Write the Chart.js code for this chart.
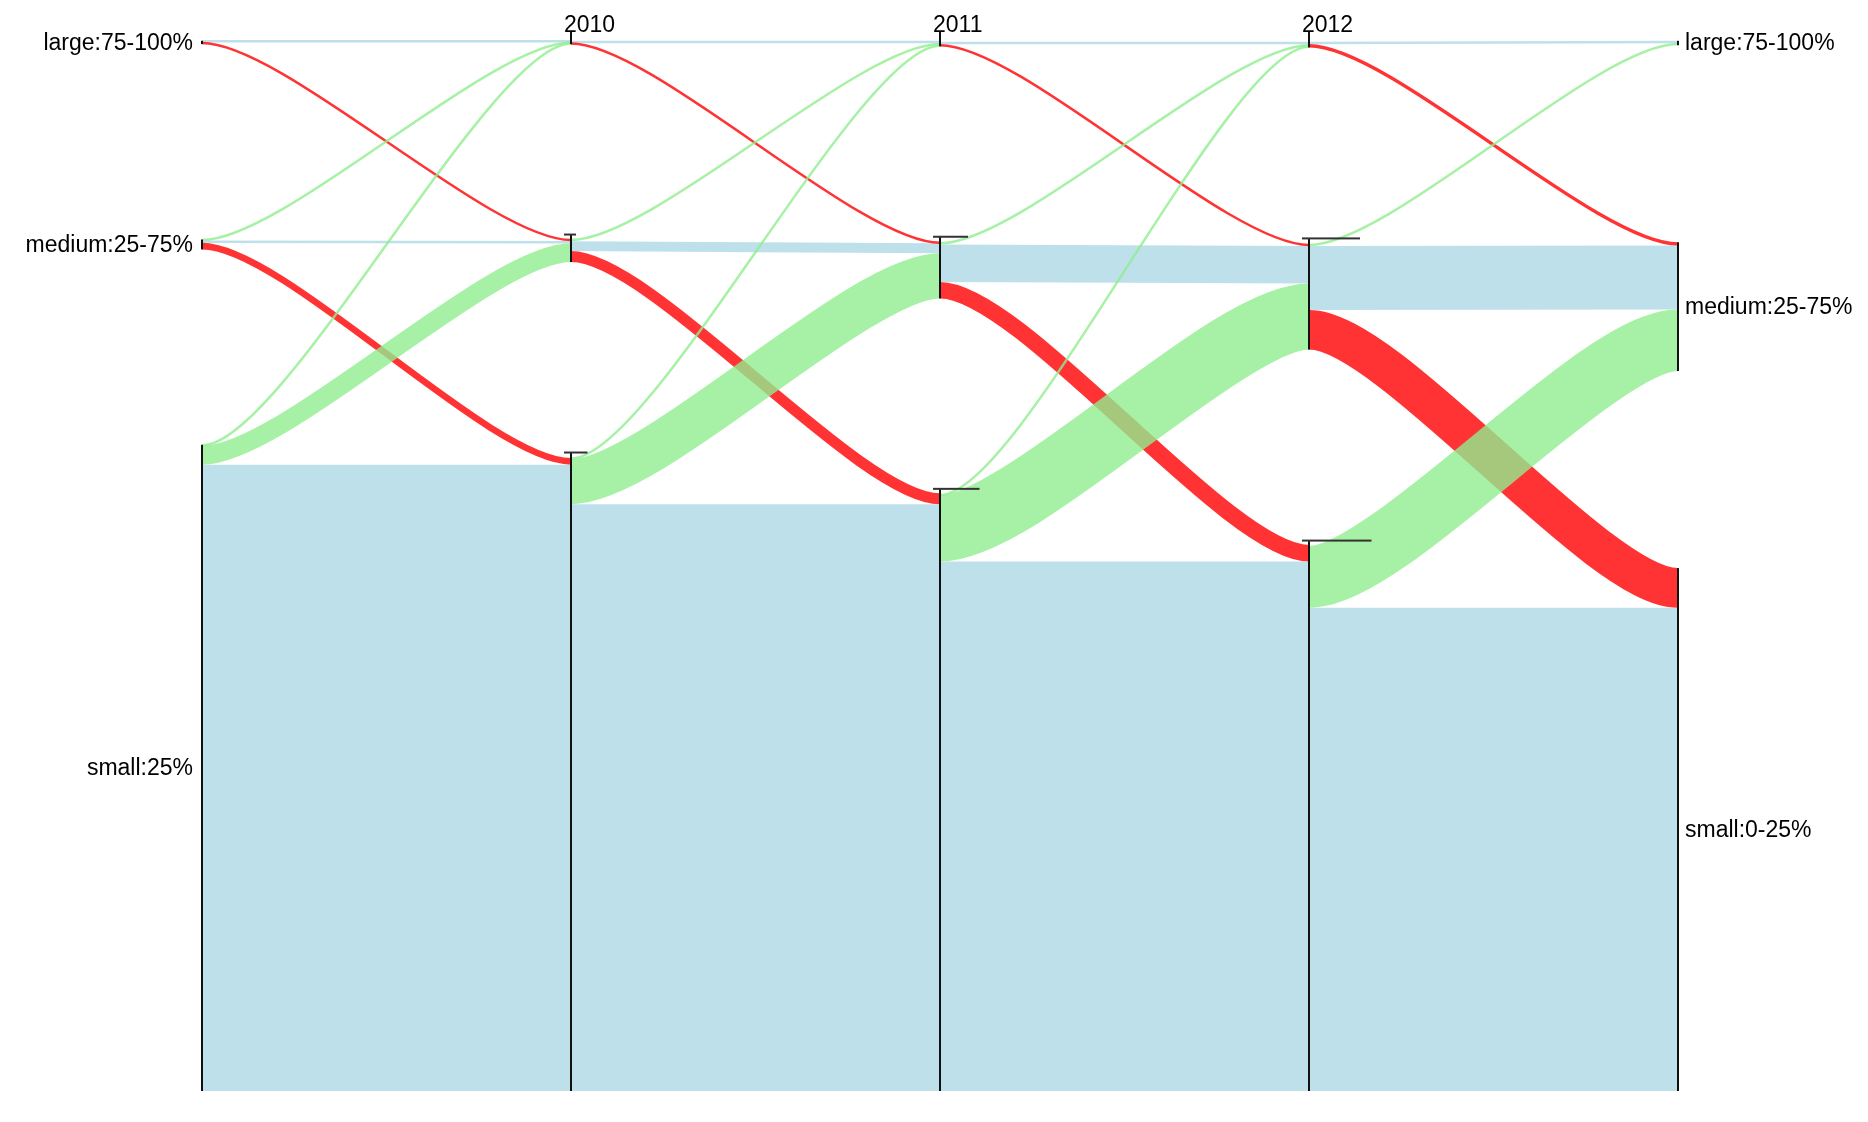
<!DOCTYPE html>
<html>
<head>
<meta charset="utf-8">
<script src="https://cdn.jsdelivr.net/npm/chart.js@4.4.1/dist/chart.umd.min.js"></script>
<style>
  html, body { margin: 0; padding: 0; background: #ffffff; }
  #wrap { width: 1868px; height: 1122px; position: relative; }
</style>
</head>
<body>
<div id="wrap"><canvas id="c"></canvas></div>
<script>
// ---------------- data ----------------
const stageLabels = ['', '2010', '2011', '2012', ''];
const categories = ['large', 'medium', 'small'];
const leftLabels = ['large:75-100%', 'medium:25-75%', 'small:25%'];
const rightLabels = ['large:75-100%', 'medium:25-75%', 'small:0-25%'];

// flows[from][to] between consecutive stages (rows/cols: large, medium, small)
const flowsStage0to2010 = [[1, 2, 0], [1, 2, 6], [1, 17, 569]];
const flows2010to2011   = [[2, 1, 0], [2, 9, 10], [1, 41, 533]];
const flows2011to2012   = [[2, 2, 0], [2, 34, 15], [1, 60, 481]];
const flows2012toEnd    = [[2, 3, 0], [2, 58, 36], [0, 56, 439]];
const flows = [flowsStage0to2010, flows2010to2011, flows2011to2012, flows2012toEnd];

// unlabelled share at the top of each node (per stage: large, medium, small)
const reserved = [[8, 0, 0], [8, 4, 5], [8, 5, 4], [9, 5, 4], [8, 0, 0]];
const yExtent = 962;

// ---------------- layout ----------------
function computeLayout() {
  const nCol = stageLabels.length;
  const cols = [];
  for (let c = 0; c < nCol; c++) {
    const nodes = categories.map((cat, i) => {
      const inV = c > 0 ? flows[c - 1].reduce((s, row) => s + row[i], 0) : 0;
      const outV = c < nCol - 1 ? flows[c][i].reduce((s, v) => s + v, 0) : 0;
      const val = Math.max(inV, outV);
      const res = reserved[c][i];
      return { inV, outV, val, res, total: val + res };
    });
    const sum = nodes.reduce((s, n) => s + n.total, 0);
    const gap = (yExtent - sum) / (nodes.length - 1);
    let y = 0;
    nodes.forEach(n => {
      n.y0 = y; n.yf = y + n.res; n.y1 = y + n.total;
      y = n.y1 + gap;
    });
    cols.push(nodes);
  }
  return cols;
}

const COLORS = {
  same: 'rgba(173,216,230,0.8)',
  up: 'rgba(144,238,144,0.8)',
  down: 'rgba(255,0,0,0.8)'
};
const FONT = '23px "Liberation Sans", Arial, Helvetica, sans-serif';
const CURVE = 0.22;

const sankeyPlugin = {
  id: 'sankeyPlugin',
  afterDraw(chart) {
    const ctx = chart.ctx;
    const xs = chart.scales.x, ys = chart.scales.y;
    const cols = computeLayout();
    const py = v => ys.getPixelForValue(v);
    const kpx = Math.abs(py(1) - py(0));

    // links
    const links = [];
    for (let s = 0; s < flows.length; s++) {
      const F = flows[s];
      const src = cols[s], tgt = cols[s + 1];
      for (let i = 0; i < 3; i++) {
        for (let j = 0; j < 3; j++) {
          const v = F[i][j];
          if (!v) continue;
          let sy = src[i].y1 - src[i].outV;
          for (let jj = 0; jj < j; jj++) sy += F[i][jj];
          let ty = tgt[j].y1 - tgt[j].inV;
          for (let ii = 0; ii < i; ii++) ty += F[ii][j];
          const kind = i === j ? 'same' : (j < i ? 'up' : 'down');
          links.push({ s, v, y0: sy + v / 2, y1: ty + v / 2, kind });
        }
      }
    }
    const order = { same: 0, down: 1, up: 2 };
    links.sort((a, b) => order[a.kind] - order[b.kind]);
    ctx.save();
    ctx.lineCap = 'butt';
    links.forEach(l => {
      const x0 = xs.getPixelForValue(l.s), x1 = xs.getPixelForValue(l.s + 1);
      const dx = x1 - x0;
      const y0 = py(l.y0), y1 = py(l.y1);
      ctx.beginPath();
      ctx.moveTo(x0, y0);
      ctx.bezierCurveTo(x0 + CURVE * dx, y0, x1 - CURVE * dx, y1, x1, y1);
      ctx.strokeStyle = COLORS[l.kind];
      ctx.lineWidth = Math.max(2.5, l.v * kpx);
      ctx.stroke();
    });

    // nodes
    const last = cols.length - 1;
    cols.forEach((nodes, c) => {
      const x = xs.getPixelForValue(c);
      const middle = c > 0 && c < last;
      nodes.forEach((n, i) => {
        const top = py(middle ? n.y0 : n.yf);
        const bot = py(n.y1);
        ctx.fillStyle = '#111';
        ctx.fillRect(x - 1, top, 2, Math.max(2, bot - top));
        if (middle && i > 0) {
          const k = 2 * (c - 1) + (i - 1);
          ctx.fillStyle = '#333';
          ctx.fillRect(x - 7, top - 1, 12 + 11.5 * k, 2);
        }
      });
    });

    // text
    ctx.font = FONT;
    ctx.fillStyle = '#000';
    cols.forEach((nodes, c) => {
      const x = xs.getPixelForValue(c);
      if (stageLabels[c]) {
        ctx.textAlign = 'left';
        ctx.textBaseline = 'alphabetic';
        ctx.fillText(stageLabels[c], x - 7, py(nodes[0].y0));
      }
    });
    ctx.textBaseline = 'middle';
    cols[0].forEach((n, i) => {
      ctx.textAlign = 'right';
      ctx.fillText(leftLabels[i], xs.getPixelForValue(0) - 9, (py(n.yf) + py(n.y1)) / 2 + 1);
    });
    cols[last].forEach((n, i) => {
      ctx.textAlign = 'left';
      ctx.fillText(rightLabels[i], xs.getPixelForValue(last) + 7, (py(n.yf) + py(n.y1)) / 2 + 1);
    });
    ctx.restore();
  }
};

new Chart(document.getElementById('c'), {
  type: 'scatter',
  data: { datasets: [{ data: [], pointRadius: 0 }] },
  options: {
    responsive: true,
    maintainAspectRatio: false,
    animation: false,
    devicePixelRatio: 1,
    layout: { padding: { left: 202, right: 190, top: 32, bottom: 31 } },
    plugins: { legend: { display: false }, tooltip: { enabled: false } },
    scales: {
      x: { type: 'linear', min: 0, max: stageLabels.length - 1, display: false },
      y: { type: 'linear', min: 0, max: yExtent, reverse: true, display: false }
    }
  },
  plugins: [sankeyPlugin]
});
</script>
</body>
</html>
